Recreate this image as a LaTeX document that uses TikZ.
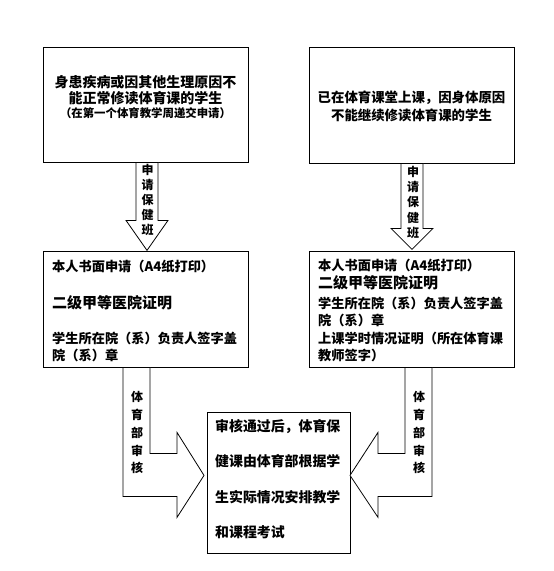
\documentclass[tikz,border=0pt]{standalone}
\usepackage{fontspec}
\setmainfont{Noto Sans CJK SC}
\usetikzlibrary{positioning,calc}

\tikzset{
  box/.style={draw, line width=0.8pt, fill=white, inner sep=0pt},
  blkarrow/.style={draw, line width=0.8pt, fill=white, line join=miter},
  txt/.style={anchor=base west, inner sep=0pt, font=\bfseries\fontsize{13.2}{15}\selectfont},
  ctxt/.style={txt, anchor=base},
  vchar/.style={inner sep=0pt, font=\bfseries\fontsize{12}{14}\selectfont}
}

\begin{document}
\begin{tikzpicture}[x=1pt, y=-1pt]
    \useasboundingbox (0,0) rectangle (554,571);

    % Boxes
    \node [box, minimum width=205, minimum height=115] (req1) at (145.5,104.5) {};
    \node [box, minimum width=205, minimum height=116] (req2) at (411.5,105) {};
    \node [box, minimum width=205, minimum height=116] (doc1) at (145.5,309) {};
    \node [box, minimum width=205, minimum height=116] (doc2) at (411.5,309) {};
    \node [box, minimum width=143, minimum height=141] (res) at (278.5,482.5) {};

    % Down arrows
    \draw [blkarrow] ($(req1.south)+(-9.5,0)$) -- ++(0,58) -- ++(-10,0) -- ++(21,30) -- ++(21,-30) -- ++(-10,0) -- ++(0,-58) -- cycle;
    \draw [blkarrow] ($(req2.south)+(-10.5,0)$) -- ++(0,65) -- ++(-10,0) -- ++(21,21) -- ++(21,-21) -- ++(-10,0) -- ++(0,-65) -- cycle;

    % Bent arrows
    \draw [blkarrow] ($(doc1.south)+(-22.5,0)$) -- ++(0,129) -- ++(54,0) -- ++(0,21) -- ++(27,-42) -- ++(-27,-43) -- ++(0,21) -- ++(-27,0) -- ++(0,-86) -- cycle;
    \draw [blkarrow] ($(doc2.south)+(20.5,0)$) -- ++(0,129) -- ++(-54,0) -- ++(0,21) -- ++(-28,-42) -- ++(28,-43) -- ++(0,21) -- ++(27,0) -- ++(0,-86) -- cycle;

    % Top texts
    \node [ctxt, font=\bfseries\fontsize{14}{16}\selectfont] (r1a) at (145.5,87.4) {身患疾病或因其他生理原因不};
    \node [ctxt, font=\bfseries\fontsize{14}{16}\selectfont] (r1b) at (145.5,103.4) {能正常修读体育课的学生};
    \node [ctxt, font=\bfseries\fontsize{11.4}{13}\selectfont] (r1c) at (145.5,117.4) {（在第一个体育教学周递交申请）};
    \node [ctxt, font=\bfseries\fontsize{13.4}{15}\selectfont] (r2a) at (411.5,102) {已在体育课堂上课，因身体原因};
    \node [ctxt, font=\bfseries\fontsize{13.4}{15}\selectfont] (r2b) at (411.5,120) {不能继续修读体育课的学生};

    % Documents
    \node [txt] (d1a) at (52,271) {本人书面申请（A4纸打印）};
    \node [txt, font=\bfseries\fontsize{15}{17}\selectfont] (d1b) at (52,308.7) {二级甲等医院证明};
    \node [txt] (d1c) at (52,343) {学生所在院（系）负责人签字盖};
    \node [txt] (d1d) at (52,360) {院（系）章};
    \node [txt] (d2a) at (318,270) {本人书面申请（A4纸打印）};
    \node [txt, font=\bfseries\fontsize{15}{17}\selectfont] (d2b) at (318,288.7) {二级甲等医院证明};
    \node [txt] (d2c) at (318,308) {学生所在院（系）负责人签字盖};
    \node [txt] (d2d) at (318,325) {院（系）章};
    \node [txt] (d2e) at (318,343) {上课学时情况证明（所在体育课};
    \node [txt] (d2f) at (318,360) {教师签字）};

    % Result
    \foreach \y/\line [count=\i] in {431/审核通过后，体育保, 466/健课由体育部根据学, 502/生实际情况安排教学, 537/和课程考试} {
        \node [txt, font=\bfseries\fontsize{13.9}{16}\selectfont] (res\i) at (215,\y) {\line};
    }

    % Arrow labels
    \foreach \ch [count=\i] in {申,请,保,健,班} {
        \node [vchar] (la\i) at (147.5, 170+15*\i-15) {\ch};
        \node [vchar] (ra\i) at (413, 172+15.2*\i-15.2) {\ch};
    }
    \foreach \ch [count=\i] in {体,育,部,审,核} {
        \node [vchar] (lb\i) at (137, 397+17.8*\i-17.8) {\ch};
        \node [vchar] (rb\i) at (419, 397+17.8*\i-17.8) {\ch};
    }
\end{tikzpicture}
\end{document}
